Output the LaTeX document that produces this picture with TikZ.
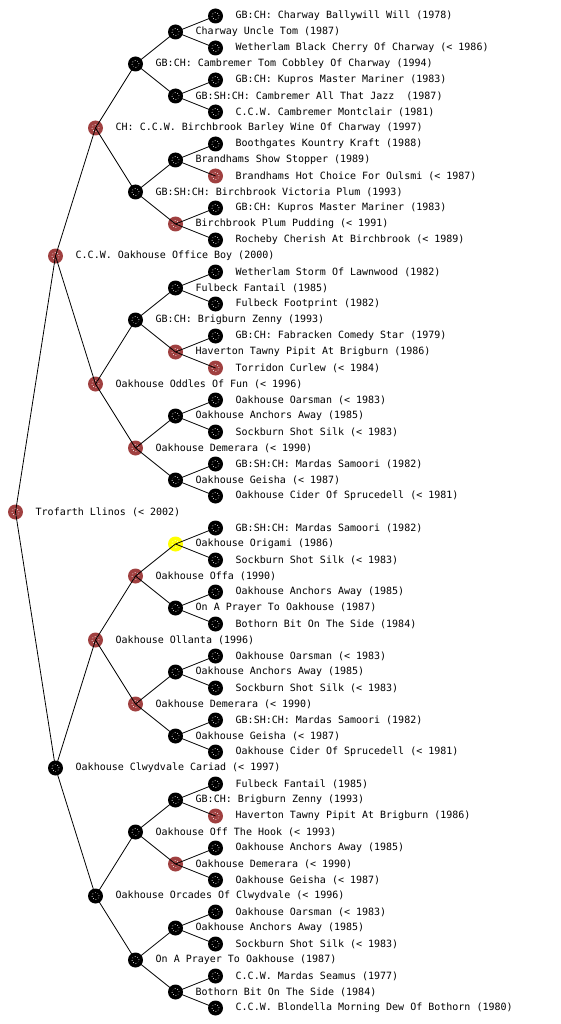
\documentclass[tikz,border=0pt]{standalone}
\usepackage{fontspec}
\newfontfamily\pedfont{DejaVu Sans Mono}
\definecolor{chred}{RGB}{160,64,64}
\definecolor{hiyellow}{RGB}{255,255,0}
\tikzset{
  dog/.style={circle, fill=#1, minimum size=15pt, inner sep=0pt,
    path picture={\draw[white, dotted, line width=0.7pt]
      (path picture bounding box.center) circle[radius=3.5pt];}},
  dog/.default=black,
  lbl/.style={font=\pedfont\fontsize{10}{12}\selectfont, inner sep=0pt, anchor=west},
  link/.style={line width=0.8pt},
}
% one dog of the pedigree: row, generation, colour, text
\newcommand\pup[4]{%
  \node[dog=#3] (r#1) at ({15.5+40*#2},{16*#1}) {};
  \node[lbl] (t#1) at ([xshift=20pt]r#1.center) {#4};}

\begin{document}
\begin{tikzpicture}[x=1pt, y=-1pt]
\useasboundingbox (0,0) rectangle (560,1024);
\pup{1}{5}{black}{GB:CH: Charway Ballywill Will (1978)}
\pup{2}{4}{black}{Charway Uncle Tom (1987)}
\pup{3}{5}{black}{Wetherlam Black Cherry Of Charway (< 1986)}
\pup{4}{3}{black}{GB:CH: Cambremer Tom Cobbley Of Charway (1994)}
\pup{5}{5}{black}{GB:CH: Kupros Master Mariner (1983)}
\pup{6}{4}{black}{GB:SH:CH: Cambremer All That Jazz~ (1987)}
\pup{7}{5}{black}{C.C.W. Cambremer Montclair (1981)}
\pup{8}{2}{chred}{CH: C.C.W. Birchbrook Barley Wine Of Charway (1997)}
\pup{9}{5}{black}{Boothgates Kountry Kraft (1988)}
\pup{10}{4}{black}{Brandhams Show Stopper (1989)}
\pup{11}{5}{chred}{Brandhams Hot Choice For Oulsmi (< 1987)}
\pup{12}{3}{black}{GB:SH:CH: Birchbrook Victoria Plum (1993)}
\pup{13}{5}{black}{GB:CH: Kupros Master Mariner (1983)}
\pup{14}{4}{chred}{Birchbrook Plum Pudding (< 1991)}
\pup{15}{5}{black}{Rocheby Cherish At Birchbrook (< 1989)}
\pup{16}{1}{chred}{C.C.W. Oakhouse Office Boy (2000)}
\pup{17}{5}{black}{Wetherlam Storm Of Lawnwood (1982)}
\pup{18}{4}{black}{Fulbeck Fantail (1985)}
\pup{19}{5}{black}{Fulbeck Footprint (1982)}
\pup{20}{3}{black}{GB:CH: Brigburn Zenny (1993)}
\pup{21}{5}{black}{GB:CH: Fabracken Comedy Star (1979)}
\pup{22}{4}{chred}{Haverton Tawny Pipit At Brigburn (1986)}
\pup{23}{5}{chred}{Torridon Curlew (< 1984)}
\pup{24}{2}{chred}{Oakhouse Oddles Of Fun (< 1996)}
\pup{25}{5}{black}{Oakhouse Oarsman (< 1983)}
\pup{26}{4}{black}{Oakhouse Anchors Away (1985)}
\pup{27}{5}{black}{Sockburn Shot Silk (< 1983)}
\pup{28}{3}{chred}{Oakhouse Demerara (< 1990)}
\pup{29}{5}{black}{GB:SH:CH: Mardas Samoori (1982)}
\pup{30}{4}{black}{Oakhouse Geisha (< 1987)}
\pup{31}{5}{black}{Oakhouse Cider Of Sprucedell (< 1981)}
\pup{32}{0}{chred}{Trofarth Llinos (< 2002)}
\pup{33}{5}{black}{GB:SH:CH: Mardas Samoori (1982)}
\pup{34}{4}{hiyellow}{Oakhouse Origami (1986)}
\pup{35}{5}{black}{Sockburn Shot Silk (< 1983)}
\pup{36}{3}{chred}{Oakhouse Offa (1990)}
\pup{37}{5}{black}{Oakhouse Anchors Away (1985)}
\pup{38}{4}{black}{On A Prayer To Oakhouse (1987)}
\pup{39}{5}{black}{Bothorn Bit On The Side (1984)}
\pup{40}{2}{chred}{Oakhouse Ollanta (1996)}
\pup{41}{5}{black}{Oakhouse Oarsman (< 1983)}
\pup{42}{4}{black}{Oakhouse Anchors Away (1985)}
\pup{43}{5}{black}{Sockburn Shot Silk (< 1983)}
\pup{44}{3}{chred}{Oakhouse Demerara (< 1990)}
\pup{45}{5}{black}{GB:SH:CH: Mardas Samoori (1982)}
\pup{46}{4}{black}{Oakhouse Geisha (< 1987)}
\pup{47}{5}{black}{Oakhouse Cider Of Sprucedell (< 1981)}
\pup{48}{1}{black}{Oakhouse Clwydvale Cariad (< 1997)}
\pup{49}{5}{black}{Fulbeck Fantail (1985)}
\pup{50}{4}{black}{GB:CH: Brigburn Zenny (1993)}
\pup{51}{5}{chred}{Haverton Tawny Pipit At Brigburn (1986)}
\pup{52}{3}{black}{Oakhouse Off The Hook (< 1993)}
\pup{53}{5}{black}{Oakhouse Anchors Away (1985)}
\pup{54}{4}{chred}{Oakhouse Demerara (< 1990)}
\pup{55}{5}{black}{Oakhouse Geisha (< 1987)}
\pup{56}{2}{black}{Oakhouse Orcades Of Clwydvale (< 1996)}
\pup{57}{5}{black}{Oakhouse Oarsman (< 1983)}
\pup{58}{4}{black}{Oakhouse Anchors Away (1985)}
\pup{59}{5}{black}{Sockburn Shot Silk (< 1983)}
\pup{60}{3}{black}{On A Prayer To Oakhouse (1987)}
\pup{61}{5}{black}{C.C.W. Mardas Seamus (1977)}
\pup{62}{4}{black}{Bothorn Bit On The Side (1984)}
\pup{63}{5}{black}{C.C.W. Blondella Morning Dew Of Bothorn (1980)}

% sire and dam lines, one generation at a time
\foreach \h in {16,8,4,2,1}{
  \pgfmathtruncatemacro\n{16/\h}
  \foreach \k in {1,...,\n}{
    \pgfmathtruncatemacro\p{(2*\k-1)*2*\h}
    \pgfmathtruncatemacro\a{\p-\h}
    \pgfmathtruncatemacro\b{\p+\h}
    \draw[link] (r\p.center) -- (r\a.center) (r\p.center) -- (r\b.center);
  }
}
\end{tikzpicture}
\end{document}
